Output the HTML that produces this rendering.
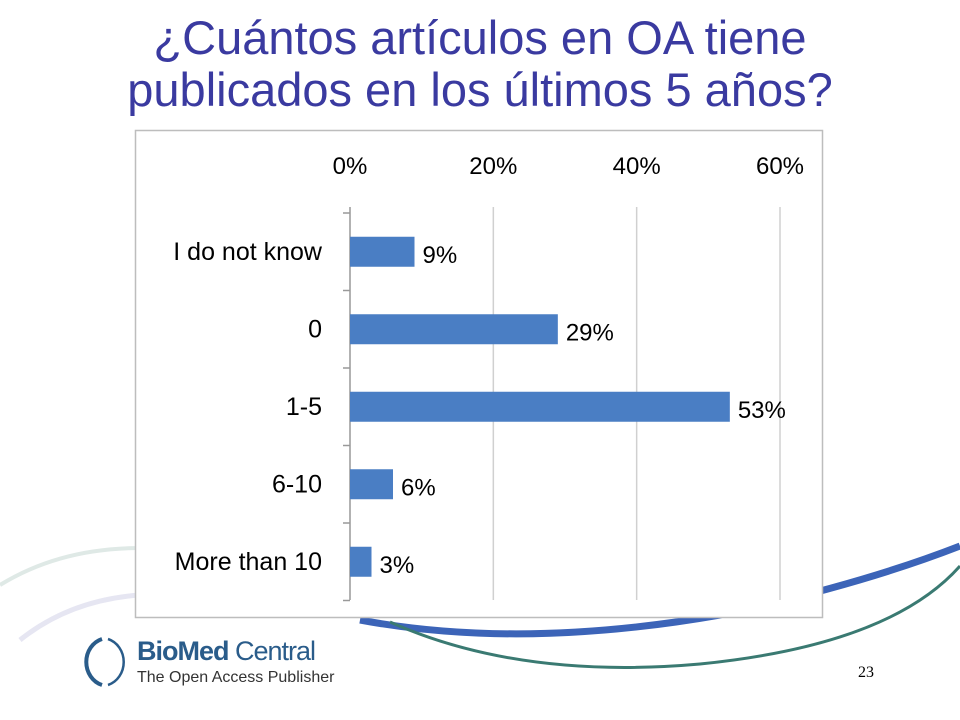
<!DOCTYPE html>
<html><head><meta charset="utf-8"><style>
body{margin:0;width:960px;height:720px;background:#fff;overflow:hidden;position:relative;font-family:"Liberation Sans",sans-serif}
#title{position:absolute;left:0;top:12px;width:960px;text-align:center;color:#3a3aa0;font-size:47px;line-height:52px}
</style></head><body>
<svg width="960" height="720" style="position:absolute;left:0;top:0">
<path d="M0,585 Q60,548 140,548" stroke="#dfe9e6" stroke-width="4" fill="none"/>
<path d="M20,640 Q70,600 140,595" stroke="#e6e6f2" stroke-width="5" fill="none"/>
<path d="M360,620 Q520,650 720,615 Q860,585 960,546" stroke="#3c64b8" stroke-width="7" fill="none"/>
<path d="M390,622 Q520,680 700,664 Q890,645 960,566" stroke="#3a7a72" stroke-width="3" fill="none"/>
</svg>
<div id="title">¿Cuántos artículos en OA tiene<br>publicados en los últimos 5 años?</div>
<svg id="chart" width="960" height="720" style="position:absolute;left:0;top:0">
<rect x="135.5" y="130.5" width="687" height="487" fill="#fff" stroke="#bdbdbd" stroke-width="1.5"/>
</svg>
<div style="position:absolute;left:80px;top:633px">
<svg width="50" height="56" style="position:absolute;left:0;top:0"><path d="M22,6 A22,24 0 0 0 22,52" stroke="#2a5c8a" stroke-width="4" fill="none"/><path d="M28,6 A22,24 0 0 1 28,52" stroke="#2a5c8a" stroke-width="2.5" fill="none"/></svg>
<div style="position:absolute;left:57px;top:3px;font-size:27px;color:#2a5c8a;white-space:nowrap;letter-spacing:-1px"><b>BioMed</b> Central</div>
<div style="position:absolute;left:57px;top:36px;font-size:16px;color:#333;white-space:nowrap">The Open Access Publisher</div>
</div>
<div style="position:absolute;left:858px;top:664px;font-family:'Liberation Serif',serif;font-size:16px">23</div>
<script>
const categories=["I do not know","0","1-5","6-10","More than 10"];
const values=[9,29,53,6,3];
const ticks=[0,20,40,60];
const svg=document.getElementById('chart');
const NS="http://www.w3.org/2000/svg";
const x=v=>350+v*(430/60);
const top0=213,step=77.5;
function el(t,a){const e=document.createElementNS(NS,t);for(const k in a)e.setAttribute(k,a[k]);svg.appendChild(e);return e;}
ticks.forEach(t=>{
 const g=el('line',{x1:x(t),x2:x(t),y1:207,y2:600,stroke:t===0?'#999':'#d0d0d0','stroke-width':1.5});
 
 
 const tx=el('text',{x:x(t),y:174,'text-anchor':'middle','font-size':24,fill:'#000','font-family':'Liberation Sans'});
 tx.textContent=t+'%';
 
 
});
for(let i=0;i<=categories.length;i++){
 const tk=el('line',{x1:343,x2:350,y1:top0+i*step,y2:top0+i*step,stroke:'#999','stroke-width':1.5});
 
 
}
categories.forEach((c,i)=>{
 const cy=top0+step*(i+0.5);
 const r=el('rect',{x:x(0),y:cy-15,width:x(values[i])-x(0),height:30,fill:'#4a7ec4'});
 
 
 const l=el('text',{x:322,y:cy+8,'text-anchor':'end','font-size':25,'font-family':'Liberation Sans'});
 l.textContent=c;
 
 
 const v=el('text',{x:x(values[i])+8,y:cy+11,'font-size':24,'font-family':'Liberation Sans'});
 v.textContent=values[i]+'%';
 
 
});
</script>
</body></html>
